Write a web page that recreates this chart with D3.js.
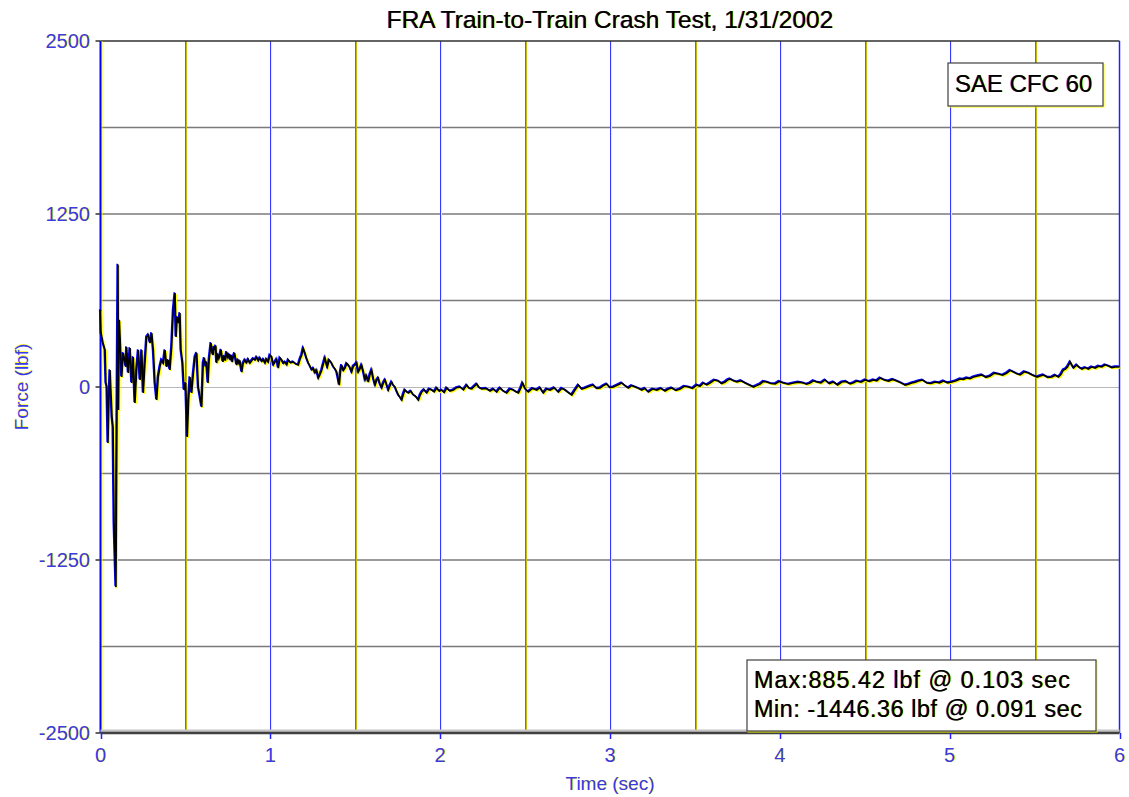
<html>
<head>
<script src="https://d3js.org/d3.v7.min.js"></script>
<style>
  body { margin: 0; background: #fff; }
  text { font-family: "Liberation Sans", Arial, sans-serif; }
</style>
</head>
<body>
<svg id="chart" width="1129" height="797"></svg>
<script>
// [seconds, lbf]
var trace = [
  [0.000, 556], [0.003, 390], [0.015, 318], [0.027, 267], [0.032, 29], [0.038, 0], [0.044, -405], [0.050, -94],
  [0.056, 123], [0.068, -217], [0.074, -289], [0.080, -983], [0.091, -1446], [0.097, -217], [0.103, 885], [0.106, -166],
  [0.111, 484], [0.125, 72], [0.134, 246], [0.150, 145], [0.154, 289], [0.164, 101], [0.174, 282], [0.184, 29],
  [0.193, 217], [0.203, -116], [0.213, 123], [0.223, 267], [0.233, 51], [0.243, 267], [0.252, -43], [0.262, 173],
  [0.272, 361], [0.282, 376], [0.292, 318], [0.302, 390], [0.311, 267], [0.321, 29], [0.331, -94], [0.340, 72],
  [0.350, 145], [0.360, 195], [0.370, 173], [0.380, 267], [0.390, 145], [0.399, 195], [0.409, 123], [0.419, 289],
  [0.429, 556], [0.439, 679], [0.445, 361], [0.452, 506], [0.461, 462], [0.468, 535], [0.474, 267], [0.484, 173],
  [0.492, -22], [0.502, 29], [0.511, -361], [0.519, -94], [0.527, 72], [0.537, -43], [0.547, 101], [0.557, 217],
  [0.567, 246], [0.576, 0], [0.586, -72], [0.596, -145], [0.605, 173], [0.612, 210], [0.618, 160], [0.625, 181],
  [0.633, 29], [0.640, 200], [0.651, 318], [0.657, 260], [0.663, 231], [0.668, 290], [0.674, 267], [0.679, 300],
  [0.684, 173], [0.690, 240], [0.697, 205], [0.704, 231], [0.710, 270], [0.716, 215], [0.721, 181], [0.728, 225],
  [0.735, 190], [0.743, 253], [0.750, 215], [0.757, 240], [0.763, 195], [0.770, 230], [0.776, 180], [0.782, 217],
  [0.790, 245], [0.796, 200], [0.802, 159], [0.810, 200], [0.816, 170], [0.822, 181], [0.832, 108], [0.840, 170],
  [0.851, 195], [0.860, 175], [0.870, 200], [0.880, 173], [0.890, 190], [0.900, 205], [0.910, 195], [0.920, 215],
  [0.930, 190], [0.939, 210], [0.950, 185], [0.960, 200], [0.969, 173], [0.978, 200], [0.988, 181], [0.998, 230],
  [1.008, 217], [1.018, 160], [1.028, 181], [1.038, 200], [1.047, 137], [1.057, 210], [1.067, 195], [1.077, 170],
  [1.087, 181], [1.097, 160], [1.106, 195], [1.120, 175], [1.135, 181], [1.150, 165], [1.165, 159], [1.175, 200],
  [1.185, 231], [1.194, 280], [1.204, 246], [1.214, 205], [1.224, 173], [1.234, 150], [1.244, 123], [1.254, 135],
  [1.263, 101], [1.273, 120], [1.283, 65], [1.293, 90], [1.303, 123], [1.313, 170], [1.322, 210], [1.329, 175],
  [1.336, 145], [1.346, 195], [1.356, 181], [1.364, 165], [1.371, 145], [1.381, 130], [1.391, 108], [1.399, 60],
  [1.406, 14], [1.413, 110], [1.420, 159], [1.430, 120], [1.440, 137], [1.450, 170], [1.459, 159], [1.469, 140],
  [1.479, 108], [1.489, 150], [1.499, 159], [1.509, 175], [1.518, 108], [1.528, 130], [1.538, 159], [1.548, 110],
  [1.558, 51], [1.567, 80], [1.577, 36], [1.587, 90], [1.597, 123], [1.607, 60], [1.617, 14], [1.627, 50],
  [1.636, 65], [1.646, 20], [1.656, -7], [1.666, 30], [1.676, 51], [1.686, 15], [1.695, -22], [1.705, 10],
  [1.715, 36], [1.725, 10], [1.734, 0], [1.744, -30], [1.754, -58], [1.764, -75], [1.774, -94], [1.784, -50],
  [1.793, -22], [1.803, -35], [1.813, -43], [1.828, -30], [1.842, -58], [1.857, -70], [1.872, -94], [1.882, -60],
  [1.892, -36], [1.906, -20], [1.921, -43], [1.936, -15], [1.951, -22], [1.965, -35], [1.980, -7], [1.995, -30],
  [2.009, -22], [2.024, -40], [2.039, -7], [2.058, -30], [2.078, -22], [2.097, -5], [2.117, 0], [2.137, -20],
  [2.157, 14], [2.171, -10], [2.186, -14], [2.201, 5], [2.216, 22], [2.230, -5], [2.245, -14], [2.270, -10],
  [2.294, -29], [2.314, -15], [2.333, -36], [2.343, -20], [2.353, -7], [2.372, -30], [2.392, -43], [2.411, -15],
  [2.431, -22], [2.446, -35], [2.461, -43], [2.474, -10], [2.486, 29], [2.502, -15], [2.519, -36], [2.544, -10],
  [2.569, -22], [2.588, -5], [2.608, -43], [2.627, -15], [2.647, -22], [2.672, -5], [2.696, -36], [2.716, -10],
  [2.736, -22], [2.755, -40], [2.775, -58], [2.795, -20], [2.814, 14], [2.834, -15], [2.853, -7], [2.878, 5],
  [2.902, 14], [2.922, -10], [2.942, -7], [2.961, 10], [2.981, 22], [3.000, -5], [3.020, 0], [3.045, 15],
  [3.069, 29], [3.088, 10], [3.108, -7], [3.128, 10], [3.148, 0], [3.167, -10], [3.187, -22], [3.206, -10],
  [3.226, -36], [3.251, -15], [3.276, -22], [3.300, -10], [3.324, -29], [3.344, -15], [3.364, -7], [3.388, -25],
  [3.413, -14], [3.437, 5], [3.462, 0], [3.486, -10], [3.511, 14], [3.530, 5], [3.550, 29], [3.570, 15],
  [3.589, 29], [3.614, 50], [3.638, 43], [3.658, 25], [3.678, 36], [3.692, 50], [3.707, 58], [3.727, 45],
  [3.747, 36], [3.772, 45], [3.796, 29], [3.820, 15], [3.845, 0], [3.864, 10], [3.884, 22], [3.904, 40],
  [3.923, 36], [3.948, 25], [3.972, 22], [3.996, 40], [4.021, 29], [4.050, 20], [4.080, 29], [4.110, 35],
  [4.139, 29], [4.158, 20], [4.178, 29], [4.198, 45], [4.218, 36], [4.242, 30], [4.267, 51], [4.291, 25],
  [4.316, 36], [4.340, 15], [4.365, 36], [4.390, 40], [4.414, 22], [4.434, 30], [4.453, 43], [4.478, 35],
  [4.502, 51], [4.527, 40], [4.551, 51], [4.571, 45], [4.591, 65], [4.615, 50], [4.640, 43], [4.665, 55],
  [4.689, 43], [4.713, 30], [4.738, 14], [4.757, 20], [4.777, 29], [4.797, 35], [4.816, 43], [4.841, 50],
  [4.866, 29], [4.890, 25], [4.915, 36], [4.940, 30], [4.964, 43], [4.988, 30], [5.013, 36], [5.038, 45],
  [5.062, 58], [5.081, 55], [5.101, 65], [5.120, 60], [5.140, 72], [5.165, 80], [5.190, 87], [5.214, 70],
  [5.239, 79], [5.263, 100], [5.287, 94], [5.312, 85], [5.337, 101], [5.356, 120], [5.376, 108], [5.396, 95],
  [5.415, 87], [5.440, 110], [5.464, 101], [5.489, 85], [5.514, 72], [5.533, 80], [5.552, 87], [5.577, 70],
  [5.602, 72], [5.621, 85], [5.641, 72], [5.655, 90], [5.670, 123], [5.682, 130], [5.694, 145], [5.710, 181],
  [5.729, 137], [5.749, 159], [5.764, 140], [5.779, 130], [5.798, 140], [5.817, 130], [5.837, 145], [5.857, 137],
  [5.876, 150], [5.896, 145], [5.915, 160], [5.935, 152], [5.955, 140], [5.975, 145], [6.000, 145]
];

var xTicks = [0, 1, 2, 3, 4, 5, 6];
var xGrid = [0.5, 1, 1.5, 2, 2.5, 3, 3.5, 4, 4.5, 5, 5.5];
var yTicks = [2500, 1250, 0, -1250, -2500];
var yGrid = [1875, 1250, 625, -625, -1250, -1875];

var title = 'FRA Train-to-Train Crash Test, 1/31/2002';
var xTitle = 'Time (sec)';
var yTitle = 'Force (lbf)';
var filterLabel = 'SAE CFC 60';
var maxLabel = 'Max:885.42 lbf @ 0.103 sec';
var minLabel = 'Min: -1446.36 lbf @ 0.091 sec';

var svg = d3.select('#chart');

var x = d3.scaleLinear().domain([0, 6]).range([100.5, 1119.5]);
var y = d3.scaleLinear().domain([-2500, 2500]).range([733, 41]);

function px(v) { return Math.round(v) + 0.5; }

// text with the blue / yellow fringe of the original
function fringeText(g, tx, ty, str, size, color, anchor, rotate, len) {
    var t = g.append('g').attr('transform', 'translate(' + tx + ',' + ty + ')' + (rotate ? ' rotate(' + rotate + ')' : ''));
    var layers = color === '#000'
        ? [[0.8, 0.3, '#ffff00', 1], [-0.6, 0, '#2020ff', 0.7], [0, 0, color, 1]]
        : [[0.8, 0.3, '#ffff00', 0.9], [0, 0, color, 1]];
    layers.forEach(function(s) {
        var el = t.append('text')
            .attr('x', s[0]).attr('y', s[1])
            .attr('font-size', size)
            .attr('text-anchor', anchor)
            .attr('fill', s[2])
            .attr('fill-opacity', s[3])
            .text(str);
        if (len) el.attr('textLength', len).attr('lengthAdjust', 'spacing');
    });
}

// horizontal grid
svg.selectAll('.hgrid')
    .data(yGrid)
    .enter()
    .append('line')
    .attr('x1', x(0)).attr('x2', x(6))
    .attr('y1', function(d) { return y(d); })
    .attr('y2', function(d) { return y(d); })
    .attr('stroke', '#7a7a7a')
    .attr('stroke-width', 1.5);

svg.append('line')
    .attr('x1', x(0)).attr('x2', x(6))
    .attr('y1', px(y(0))).attr('y2', px(y(0)))
    .attr('stroke', '#b8b8b8')
    .attr('stroke-width', 1);

// vertical grid: blue line with a yellow edge
xGrid.forEach(function(d) {
    var half = d % 1 !== 0;
    var gx = px(x(d));
    svg.append('line')
        .attr('x1', gx + 1).attr('x2', gx + 1)
        .attr('y1', y(2500)).attr('y2', y(-2500))
        .attr('stroke', half ? '#c4bc10' : '#ffff40')
        .attr('stroke-width', 1);
    svg.append('line')
        .attr('x1', gx).attr('x2', gx)
        .attr('y1', y(2500)).attr('y2', y(-2500))
        .attr('stroke', half ? '#76765a' : '#3838ff')
        .attr('stroke-width', 1);
});

// frame
svg.append('line')
    .attr('x1', x(0)).attr('x2', x(6)).attr('y1', y(2500)).attr('y2', y(2500))
    .attr('stroke', '#303030').attr('stroke-width', 1.5);
svg.append('line')
    .attr('x1', x(0) + 1.5).attr('x2', x(0) + 1.5).attr('y1', y(2500)).attr('y2', y(-2500))
    .attr('stroke', '#ffff00').attr('stroke-width', 1);
svg.append('line')
    .attr('x1', x(0)).attr('x2', x(0)).attr('y1', y(2500)).attr('y2', y(-2500))
    .attr('stroke', '#0000ff').attr('stroke-width', 2);
svg.append('line')
    .attr('x1', x(6)).attr('x2', x(6)).attr('y1', y(2500)).attr('y2', y(-2500))
    .attr('stroke', '#2020ff').attr('stroke-width', 1.5);
svg.append('line')
    .attr('x1', x(0)).attr('x2', x(6)).attr('y1', y(-2500) - 2).attr('y2', y(-2500) - 2)
    .attr('stroke', '#c4c4c4').attr('stroke-width', 3);
svg.append('line')
    .attr('x1', x(0)).attr('x2', x(6)).attr('y1', y(-2500)).attr('y2', y(-2500))
    .attr('stroke', '#404040').attr('stroke-width', 2.5);

// tick marks
svg.selectAll('.ytick')
    .data(yTicks)
    .enter()
    .append('line')
    .attr('x1', x(0) - 5).attr('x2', x(0))
    .attr('y1', function(d) { return y(d); })
    .attr('y2', function(d) { return y(d); })
    .attr('stroke', '#303030').attr('stroke-width', 1.5);
svg.selectAll('.xtick')
    .data(xTicks)
    .enter()
    .append('line')
    .attr('x1', function(d) { return px(x(d)); })
    .attr('x2', function(d) { return px(x(d)); })
    .attr('y1', y(-2500)).attr('y2', y(-2500) + 6)
    .attr('stroke', '#2020ff').attr('stroke-width', 1.5);

// the trace
var line = d3.line()
    .x(function(d) { return x(d[0]); })
    .y(function(d) { return y(d[1]); });

[['#ffff00', 1, 1], ['#0000ff', -0.8, -0.8], ['#000000', 0, 0]].forEach(function(s) {
    svg.append('path')
        .attr('d', line(trace))
        .attr('transform', 'translate(' + s[1] + ',' + s[2] + ')')
        .attr('fill', 'none')
        .attr('stroke', s[0])
        .attr('stroke-width', 1.6)
        .attr('stroke-linejoin', 'miter');
});

// labels
yTicks.forEach(function(d) {
    fringeText(svg, 90, y(d) + 7, d, 20, '#3a3ae6', 'end');
});
xTicks.forEach(function(d) {
    fringeText(svg, x(d), 762, d, 20, '#3a3ae6', 'middle');
});
fringeText(svg, x(3), 790, xTitle, 19, '#3a3ae6', 'middle');
fringeText(svg, 28, y(0), yTitle, 19, '#3a3ae6', 'middle', -90);
fringeText(svg, 610, 28, title, 24.5, '#000', 'middle');

// filter box
svg.append('rect')
    .attr('x', 949).attr('y', 64).attr('width', 155).attr('height', 43)
    .attr('fill', 'none').attr('stroke', '#ffff00').attr('stroke-width', 1);
svg.append('rect')
    .attr('x', 948).attr('y', 63).attr('width', 155).attr('height', 43)
    .attr('fill', '#fff').attr('stroke', '#404040').attr('stroke-width', 1.2);
fringeText(svg, 955, 92, filterLabel, 24, '#000', 'start');

// max / min box
svg.append('rect')
    .attr('x', 748).attr('y', 661).attr('width', 349).attr('height', 71)
    .attr('fill', 'none').attr('stroke', '#ffff00').attr('stroke-width', 1);
svg.append('rect')
    .attr('x', 747).attr('y', 660).attr('width', 349).attr('height', 71)
    .attr('fill', '#fff').attr('stroke', '#404040').attr('stroke-width', 1.2);
fringeText(svg, 754, 688, maxLabel, 23.5, '#000', 'start', null, 316);
fringeText(svg, 754, 717, minLabel, 23.5, '#000', 'start', null, 328);
</script>
</body>
</html>
